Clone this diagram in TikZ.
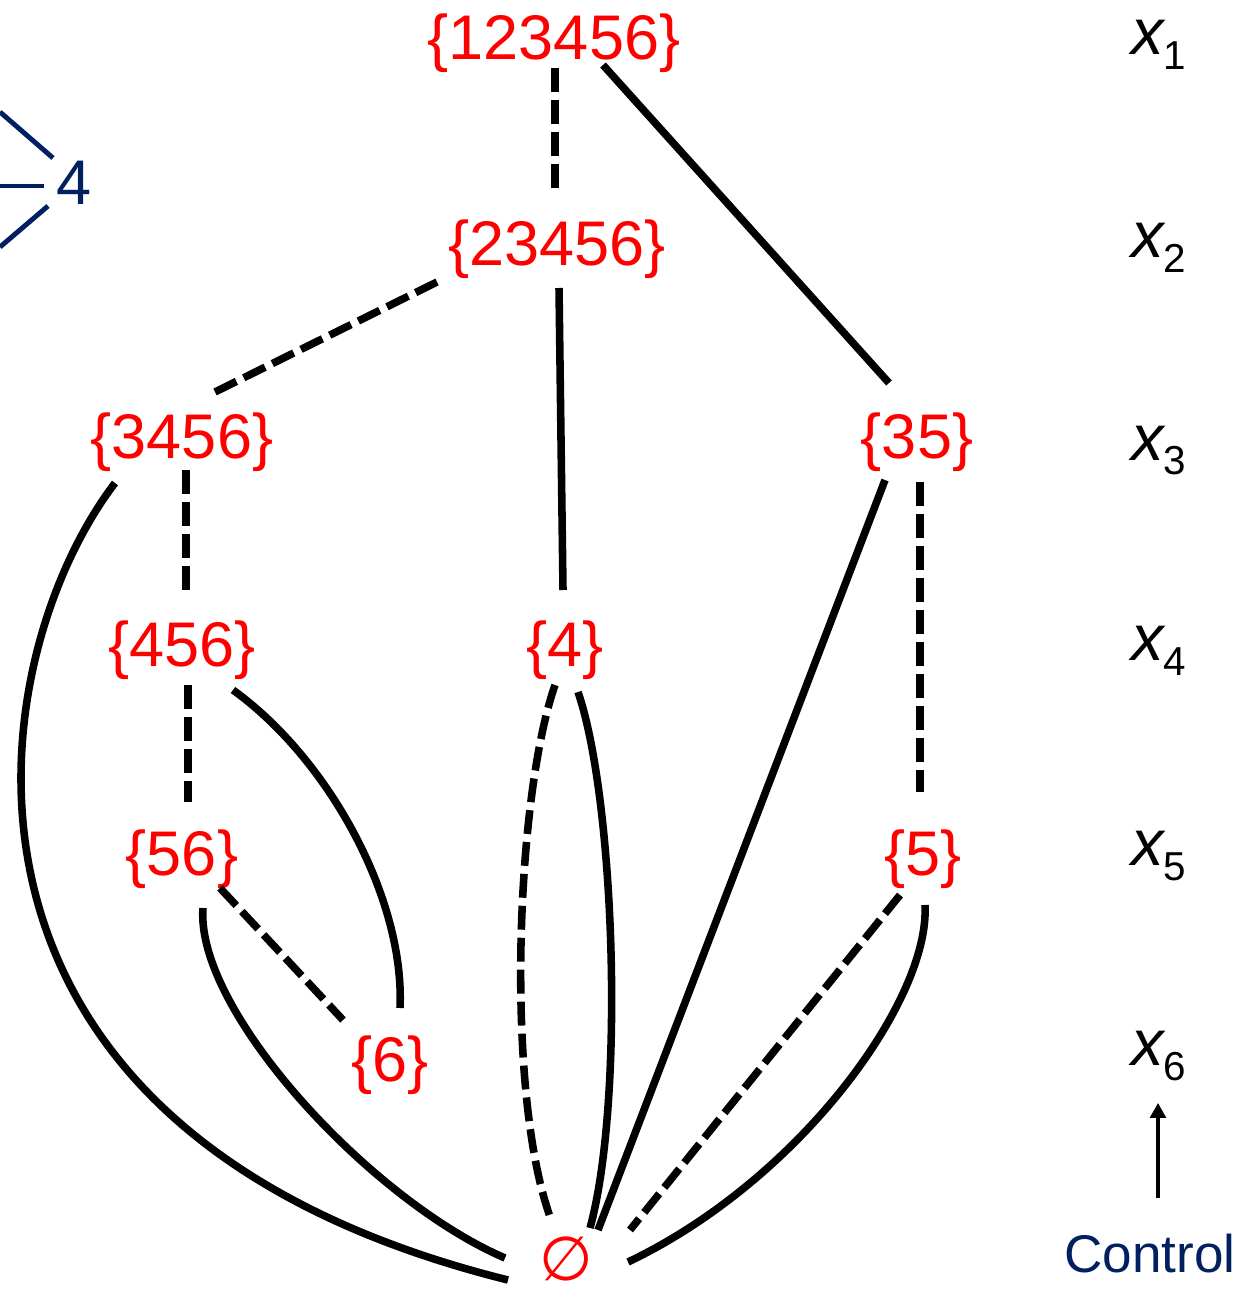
\documentclass[tikz,border=0pt]{standalone}
\usepackage{fontspec}
\setmainfont{Liberation Sans}
\newfontfamily\dejavu{DejaVu Sans}
\usetikzlibrary{arrows.meta}
\definecolor{setred}{RGB}{255,0,0}
\definecolor{navy}{RGB}{0,32,96}
\tikzset{
  setnode/.style={text=setred, inner sep=0pt, anchor=base, font=\fontsize{35.9}{40}\selectfont},
  varnode/.style={inner sep=0pt, anchor=base, font=\fontsize{37}{40}\selectfont},
  edgesolid/.style={line width=4.3pt, black},
  edgedash/.style={line width=4.3pt, black, dash pattern=on 13.6pt off 4.6pt},
  navyline/.style={line width=2.8pt, navy}
}
\newcommand{\xvar}[1]{\textit{x}\kern-0.05cm\raisebox{-0.3cm}{\fontsize{23}{26}\selectfont #1}}
\begin{document}
\begin{tikzpicture}[x=0.02cm,y=-0.02cm]
\useasboundingbox[fill=white] (0,0) rectangle (1255,1290);
% set nodes
\node[setnode] (A) at (554,60) {\{123456\}};
\node[setnode] (B) at (557,266) {\{23456\}};
\node[setnode] (C) at (182,458) {\{3456\}};
\node[setnode] (D) at (917,458) {\{35\}};
\node[setnode] (E) at (182,666) {\{456\}};
\node[setnode] (F) at (565,666) {\{4\}};
\node[setnode] (G) at (182,875) {\{56\}};
\node[setnode] (H) at (923,875) {\{5\}};
\node[setnode] (I) at (390,1081) {\{6\}};
\node[text=setred, inner sep=0pt, font=\dejavu\fontsize{35}{40}\selectfont] (Z) at (566,1259) {∅};
% variable labels
\node[varnode] (x1) at (1159,55) {\xvar{1}};
\node[varnode] (x2) at (1159,258) {\xvar{2}};
\node[varnode] (x3) at (1159,460) {\xvar{3}};
\node[varnode] (x4) at (1159,660) {\xvar{4}};
\node[varnode] (x5) at (1159,865) {\xvar{5}};
\node[varnode] (x6) at (1159,1065) {\xvar{6}};
\node[inner sep=0pt, anchor=base, text=navy, font=\fontsize{30.2}{34}\selectfont] (ctrl) at (1150,1272) {Control};
\draw[line width=1.8pt, -{Triangle[length=8.5pt,width=9pt]}] ([shift={(8,-74)}]ctrl.base) -- ([shift={(-1,38)}]x6.base);
% partial graph at top-left
\node[inner sep=0pt, anchor=base, text=navy, font=\fontsize{35.9}{40}\selectfont] (four) at (74,205) {4};
\coordinate (l1) at (0,112);
\coordinate (l2) at (0,186);
\coordinate (l3) at (0,247);
\draw[navyline] (l1) -- ([shift={(-21,-47)}]four.base);
\draw[navyline] (l2) -- ([shift={(-30,-19)}]four.base);
\draw[navyline] (l3) -- ([shift={(-26,1)}]four.base);
% edges
\draw[edgedash] ([shift={(1,8)}]A.base) -- ([shift={(-2,-78)}]B.base);
\draw[edgesolid] ([shift={(49,5)}]A.base) -- ([shift={(-28,-75)}]D.base);
\draw[edgedash] ([shift={(-120,16)}]B.base) -- ([shift={(33,-66)}]C.base);
\draw[edgesolid] ([shift={(2,22)}]B.base) -- ([shift={(-2,-76)}]F.base);
\draw[edgedash] ([shift={(4,12)}]C.base) -- ([shift={(4,-74)}]E.base);
\draw[edgesolid] ([shift={(-67,25)}]C.base) .. controls (-20,660) and (-95,1130) .. ([shift={(-58,21)}]Z.center);
\draw[edgesolid] ([shift={(-32,22)}]D.base) -- ([shift={(32,-29)}]Z.center);
\draw[edgedash] ([shift={(3,24)}]D.base) -- ([shift={(-3,-83)}]H.base);
\draw[edgedash] ([shift={(6,19)}]E.base) -- ([shift={(6,-73)}]G.base);
\draw[edgesolid] ([shift={(51,24)}]E.base) .. controls (330,760) and (405,900) .. ([shift={(10,-73)}]I.base);
\draw[edgedash] ([shift={(-10,19)}]F.base) .. controls (515,800) and (505,1100) .. ([shift={(-14,-37)}]Z.center);
\draw[edgesolid] ([shift={(13,26)}]F.base) .. controls (615,800) and (625,1100) .. ([shift={(24,-31)}]Z.center);
\draw[edgedash] ([shift={(38,13)}]G.base) -- ([shift={(-47,-61)}]I.base);
\draw[edgesolid] ([shift={(21,33)}]G.base) .. controls (195,1010) and (370,1200) .. ([shift={(-61,-1)}]Z.center);
\draw[edgedash] ([shift={(-23,20)}]H.base) -- ([shift={(64,-29)}]Z.center);
\draw[edgesolid] ([shift={(2,30)}]H.base) .. controls (930,1000) and (800,1180) .. ([shift={(62,3)}]Z.center);
\end{tikzpicture}
\end{document}
